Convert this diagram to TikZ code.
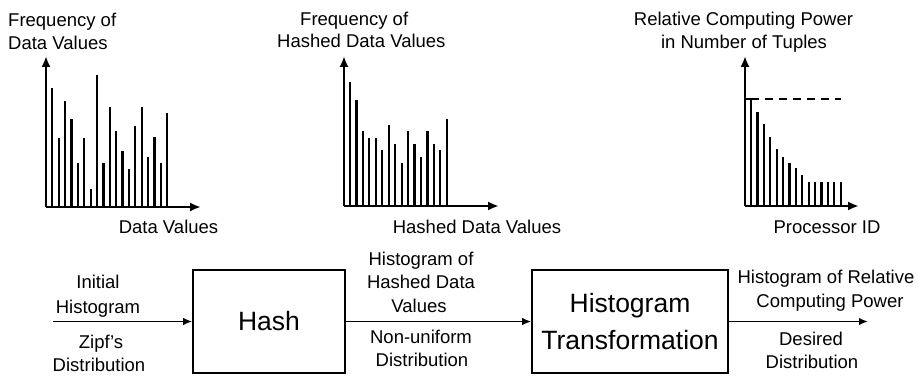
\documentclass[tikz,border=0pt]{standalone}
\usepackage{fontspec}
\setmainfont{Liberation Sans}
\usetikzlibrary{arrows.meta}

\begin{document}
\begin{tikzpicture}[x=1pt,y=-1pt,
  lbl/.style={font=\fontsize{18.5}{22}\selectfont, inner sep=0pt, anchor=base},
  lblw/.style={lbl, anchor=base west},
  axis/.style={line width=2.2pt, -{Latex[length=11pt,width=9pt]}},
  bar/.style={line width=2.2pt},
  proc/.style={draw, line width=1.6pt, inner sep=0pt, align=center,
    font=\fontsize{26.5}{37}\selectfont},
  flow/.style={line width=1.6pt, -{Latex[length=9pt,width=7.5pt]}}
]
\useasboundingbox (0,0) rectangle (918,377);

% ---------- histogram 1: frequency of data values ----------
\coordinate (o1) at (46,207);
\coordinate (y1) at (46,56);
\coordinate (x1) at (201,207);
\foreach \t [count=\i from 0] in {88,138,101,119,163,138,189,75,163,107,131,151,169,126,107,157,137,163,113}
  \draw[bar] ({52.3+6.39*\i},207) -- ({52.3+6.39*\i},\t);
\draw[axis] (o1) -- (y1);
\draw[axis] (o1) -- (x1);
\node[lblw] (t1a) at (8,27) {Frequency of};
\node[lblw] (t1b) at (8,50) {Data Values};
\node[lbl] (a1) at (168.5,233) {Data Values};

% ---------- histogram 2: frequency of hashed data values ----------
\coordinate (o2) at (344,206);
\coordinate (y2) at (344,56);
\coordinate (x2) at (499,206);
\foreach \t [count=\i from 0] in {82,100,131,138,138,150,125,144,163,131,144,157,131,144,150,119}
  \draw[bar] ({350+6.45*\i},206) -- ({350+6.45*\i},\t);
\draw[axis] (o2) -- (y2);
\draw[axis] (o2) -- (x2);
\node[lblw] (t2a) at (300,26) {Frequency of};
\node[lblw] (t2b) at (277,48) {Hashed Data Values};
\node[lbl] (a2) at (477,233) {Hashed Data Values};

% ---------- histogram 3: relative computing power ----------
\coordinate (o3) at (745,206);
\coordinate (y3) at (745,56);
\coordinate (x3) at (859,206);
\coordinate (cap) at (840.6,99);
\draw[bar] (745,99) -- (751,99) -- (751,206);
\foreach \t [count=\i from 1] in {112,124,137,149,157,163,168,175,182,182,182,182,182,182}
  \draw[bar] ({751+6.4*\i},206) -- ({751+6.4*\i},\t);
\draw[line width=2pt, dash pattern=on 8pt off 6pt] (751,99) -- (cap);
\draw[axis] (o3) -- (y3);
\draw[axis] (o3) -- (x3);
\node[lbl] (t3a) at (743.5,26) {Relative Computing Power};
\node[lbl] (t3b) at (744,49) {in Number of Tuples};
\node[lbl] (a3) at (827,233) {Processor ID};

% ---------- processing pipeline ----------
\node[proc, minimum width=152pt, minimum height=103pt] (hash) at (269,321.5) {Hash};
\node[proc, minimum width=196pt, minimum height=103pt] (trans) at (630,321.5) {Histogram\\Transformation};
\coordinate (in) at (53,321.5);
\coordinate (out) at (868,321.5);
\draw[flow] (in) -- (hash.west);
\draw[flow] (hash.east) -- (trans.west);
\draw[flow] (trans.east) -- (out);

% input labels
\node[lbl] (l1) at (98,288) {Initial};
\node[lbl] (l2) at (98,313) {Histogram};
\node[lbl] (l3) at (101,348) {Zipf's};
\node[lbl] (l4) at (99,371) {Distribution};

% intermediate labels
\node[lbl] (m1) at (421,265) {Histogram of};
\node[lbl] (m2) at (421,288) {Hashed Data};
\node[lbl] (m3) at (419,312) {Values};
\node[lbl] (m4) at (421,343) {Non-uniform};
\node[lbl] (m5) at (422,366) {Distribution};

% output labels
\node[lbl] (r1) at (826,283) {Histogram of Relative};
\node[lbl] (r2) at (830,307) {Computing Power};
\node[lbl] (r3) at (811,345) {Desired};
\node[lbl] (r4) at (812,368) {Distribution};
\end{tikzpicture}
\end{document}
